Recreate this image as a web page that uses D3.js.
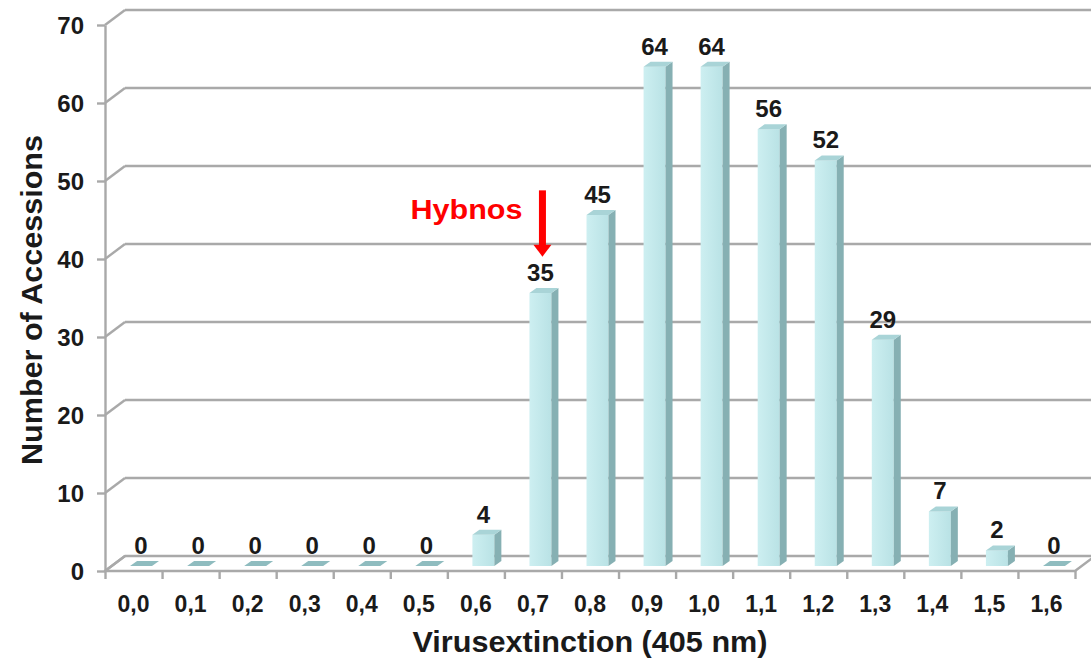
<!DOCTYPE html>
<html>
<head>
<meta charset="utf-8">
<script src="https://cdn.jsdelivr.net/npm/d3@7/dist/d3.min.js"></script>
<style>
  html, body { margin: 0; padding: 0; background: #ffffff; }
  svg { display: block; }
  text { font-family: "Liberation Sans", Arial, sans-serif; font-weight: bold; }
</style>
</head>
<body>
<svg id="chart" width="1091" height="660"></svg>
<script>
// Histogram of virus extinction classes (ELISA, 405 nm)
const categories = ["0,0","0,1","0,2","0,3","0,4","0,5","0,6","0,7","0,8","0,9","1,0","1,1","1,2","1,3","1,4","1,5","1,6"];
const counts = [0, 0, 0, 0, 0, 0, 4, 35, 45, 64, 64, 56, 52, 29, 7, 2, 0];
const yTicks = [0, 10, 20, 30, 40, 50, 60, 70];
const yMax = 70;

// marker pointing at the class of the reference cultivar
const markerCategory = "0,7";
const markerLabel = "Hybnos";
const markerRange = [48.8, 40.3];   // arrow top / tip, in axis units

const svg = d3.select("#chart");

// front plane of the 3-D box
const plotLeft = 105, plotRight = 1075, plotBottom = 571, plotTop = 25;
// depth of the walls (towards back-right)
const wallDX = 20, wallDY = -15;
// bars stand a third of the way into the box and have their own depth
const barOffX = 7.5, barOffY = -5;
const barDX = 7, barDY = -5;

const x = d3.scaleBand().domain(categories).range([plotLeft, plotRight])
  .paddingInner(0.615).paddingOuter(0.3075);
const slot = d3.scaleLinear().domain([0, categories.length]).range([plotLeft, plotRight]);
const y = d3.scaleLinear().domain([0, yMax]).range([plotBottom, plotTop]);

const gridColor = "#a9a9a9";
const gridW = 2.4;
const pts = a => a.map(p => p.join(",")).join(" ");

const defs = svg.append("defs");
const grad = defs.append("linearGradient").attr("id", "frontGrad").attr("x1", 0).attr("x2", 1).attr("y1", 0).attr("y2", 0);
grad.append("stop").attr("offset", 0).attr("stop-color", "#cdeff1");
grad.append("stop").attr("offset", 1).attr("stop-color", "#b9e2e5");

// floor
const floor = [[plotLeft, y(0)], [plotRight, y(0)], [plotRight + wallDX, y(0) + wallDY], [plotLeft + wallDX, y(0) + wallDY]];
svg.append("polygon")
  .attr("points", pts(floor))
  .attr("fill", "#ffffff").attr("stroke", gridColor).attr("stroke-width", gridW)
  .attr("stroke-linejoin", "round");

// gridlines on the back wall and their slants on the side wall
const grid = svg.append("g").attr("fill", "none").attr("stroke", gridColor).attr("stroke-width", gridW);
grid.selectAll("line.back").data(yTicks.filter(v => v > 0)).join("line")
  .attr("class", "back")
  .attr("x1", plotLeft + wallDX).attr("x2", plotRight + wallDX + 40)
  .attr("y1", d => y(d) + wallDY).attr("y2", d => y(d) + wallDY);
grid.selectAll("line.side").data(yTicks).join("line")
  .attr("class", "side")
  .attr("x1", plotLeft).attr("x2", plotLeft + wallDX)
  .attr("y1", d => y(d)).attr("y2", d => y(d) + wallDY);

// y axis
const yAxis = d3.axisLeft(y).tickValues(yTicks).tickSize(8).tickSizeOuter(0).tickPadding(13);
const gy = svg.append("g").attr("transform", `translate(${plotLeft},0)`).call(yAxis);
gy.select(".domain").attr("stroke", gridColor).attr("stroke-width", gridW);
gy.selectAll(".tick line").attr("stroke", gridColor).attr("stroke-width", gridW);
gy.selectAll(".tick text").attr("font-size", 24).attr("fill", "#1a1a1a")
  .attr("font-family", "'Liberation Sans', Arial, sans-serif").attr("font-weight", "bold").attr("dy", "0.36em");

// x axis: tick marks on class boundaries, labels in the middle of each class
const xTicks = d3.axisBottom(slot).tickValues(d3.range(categories.length + 1)).tickSize(8).tickSizeOuter(0).tickFormat("");
const gxt = svg.append("g").attr("transform", `translate(0,${y(0)})`).call(xTicks);
gxt.select(".domain").remove();
gxt.selectAll(".tick line").attr("stroke", gridColor).attr("stroke-width", gridW);

const xLabels = d3.axisBottom(x).tickSize(0).tickPadding(25);
const gx = svg.append("g").attr("transform", `translate(0,${y(0)})`).call(xLabels);
gx.select(".domain").remove();
gx.selectAll(".tick text").attr("font-size", 23).attr("fill", "#1a1a1a")
  .attr("font-family", "'Liberation Sans', Arial, sans-serif").attr("font-weight", "bold");

// 3-D bars
const data = categories.map((c, i) => ({ c, v: counts[i] }));
const bars = svg.append("g").selectAll("g").data(data).join("g");

bars.each(function (d) {
  const g = d3.select(this);
  const xl = x(d.c) + barOffX, xr = xl + x.bandwidth();
  const yb = y(0) + barOffY, yt = y(d.v) + barOffY;
  if (d.v === 0) {
    g.append("polygon")
      .attr("points", pts([[xl, yb], [xr, yb], [xr + barDX, yb + barDY], [xl + barDX, yb + barDY]]))
      .attr("fill", "#8fbcbf");
    return;
  }
  g.append("rect").attr("x", xl).attr("y", yt).attr("width", x.bandwidth()).attr("height", yb - yt)
    .attr("fill", "url(#frontGrad)");
  g.append("polygon")
    .attr("points", pts([[xr, yt], [xr + barDX, yt + barDY], [xr + barDX, yb + barDY], [xr, yb]]))
    .attr("fill", "#86b0b3");
  g.append("polygon")
    .attr("points", pts([[xl, yt], [xl + barDX, yt + barDY], [xr + barDX, yt + barDY], [xr, yt]]))
    .attr("fill", "#a9d4d7");
});

// value labels
svg.append("g").selectAll("text").data(data).join("text")
  .attr("x", d => x(d.c) + barOffX + x.bandwidth() / 2)
  .attr("y", d => y(d.v) + barOffY - 12)
  .attr("text-anchor", "middle").attr("font-size", 24).attr("fill", "#1a1a1a")
  .text(d => d.v);

// Hybnos marker
const mx = x(markerCategory) + barOffX + x.bandwidth() / 2 + 2;
const red = "#ff0000";
svg.append("rect").attr("x", mx - 3.5).attr("y", y(markerRange[0]))
  .attr("width", 7).attr("height", y(markerRange[1]) - y(markerRange[0]) - 10).attr("fill", red);
svg.append("polygon")
  .attr("points", pts([[mx - 9, y(markerRange[1]) - 12], [mx + 9, y(markerRange[1]) - 12], [mx, y(markerRange[1])]]))
  .attr("fill", red);
svg.append("text").attr("x", mx - 20).attr("y", 219).attr("text-anchor", "end")
  .attr("font-size", 27).attr("fill", red)
  .attr("textLength", 112).attr("lengthAdjust", "spacingAndGlyphs")
  .text(markerLabel);

// axis titles
svg.append("text").attr("transform", "translate(42,300) rotate(-90)")
  .attr("text-anchor", "middle").attr("font-size", 29).attr("fill", "#1a1a1a")
  .attr("textLength", 330).attr("lengthAdjust", "spacingAndGlyphs")
  .text("Number of Accessions");
svg.append("text").attr("x", 590).attr("y", 652)
  .attr("text-anchor", "middle").attr("font-size", 29).attr("fill", "#1a1a1a")
  .attr("textLength", 355).attr("lengthAdjust", "spacingAndGlyphs")
  .text("Virusextinction (405 nm)");
</script>
</body>
</html>
